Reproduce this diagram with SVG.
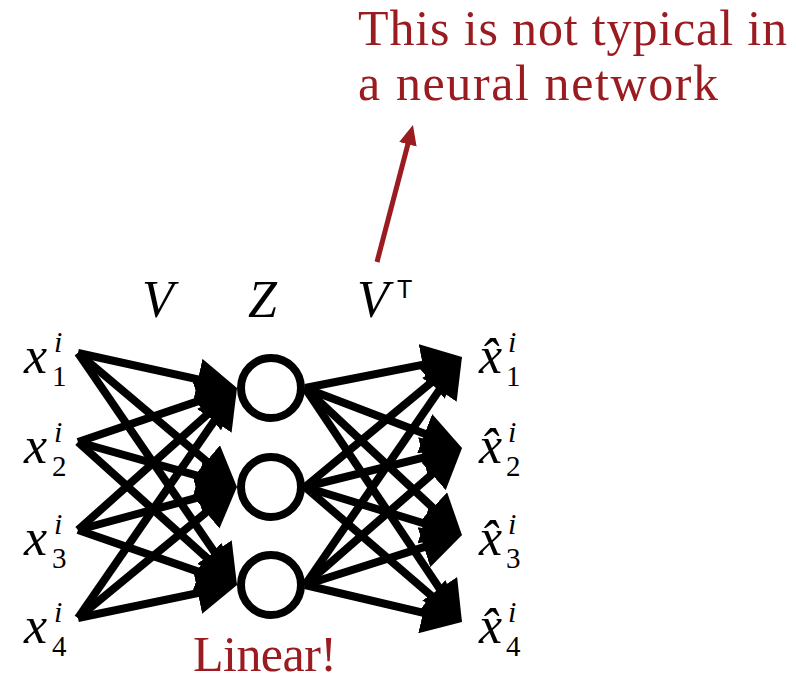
<svg xmlns="http://www.w3.org/2000/svg" width="796" height="681" viewBox="0 0 796 681">
<style>
.m{font-family:"Liberation Serif","DejaVu Serif",serif;font-style:italic;font-size:52px;fill:#000}
.sup{font-family:"Liberation Serif","DejaVu Serif",serif;font-style:italic;font-size:30px;fill:#000}
.sub{font-family:"Liberation Serif","DejaVu Serif",serif;font-size:29px;fill:#000}
.red{font-family:"Liberation Serif","DejaVu Serif",serif;font-size:50px;fill:#9a1c20}
.e{stroke:#000;stroke-width:8;fill:none;marker-end:url(#ah)}
.n{fill:#fff;stroke:#000;stroke-width:8}
</style>
<defs>
<marker id="ah" markerUnits="userSpaceOnUse" viewBox="0 0 40 42" markerWidth="40" markerHeight="42" refX="28" refY="21" orient="auto">
<path d="M0,0 L40,21 L0,42 z" fill="#000"/>
</marker>
<marker id="rah" markerUnits="userSpaceOnUse" viewBox="0 0 20 18" markerWidth="20" markerHeight="18" refX="6" refY="9" orient="auto">
<path d="M0,0 L20,9 L0,18 z" fill="#9a1c20"/>
</marker>
</defs>
<g id="connectors">
<line class="e" x1="78" y1="353" x2="225.3" y2="385.4"/>
<line class="e" x1="78" y1="442" x2="225.6" y2="391.9"/>
<line class="e" x1="78" y1="530" x2="228.0" y2="396.0"/>
<line class="e" x1="78" y1="618" x2="230.2" y2="397.9"/>
<line class="e" x1="78" y1="353" x2="227.8" y2="479.3"/>
<line class="e" x1="78" y1="442" x2="225.5" y2="483.7"/>
<line class="e" x1="78" y1="530" x2="225.4" y2="490.1"/>
<line class="e" x1="78" y1="618" x2="227.7" y2="494.6"/>
<line class="e" x1="78" y1="353" x2="230.2" y2="575.1"/>
<line class="e" x1="78" y1="442" x2="228.1" y2="577.0"/>
<line class="e" x1="78" y1="530" x2="225.7" y2="581.1"/>
<line class="e" x1="78" y1="618" x2="225.3" y2="587.4"/>
<line class="e" x1="305" y1="388" x2="450.2" y2="359.3"/>
<line class="e" x1="305" y1="388" x2="450.8" y2="443.7"/>
<line class="e" x1="305" y1="388" x2="453.2" y2="526.8"/>
<line class="e" x1="305" y1="388" x2="455.3" y2="612.0"/>
<line class="e" x1="305" y1="487" x2="452.8" y2="364.7"/>
<line class="e" x1="305" y1="487" x2="450.4" y2="450.9"/>
<line class="e" x1="305" y1="487" x2="450.5" y2="531.5"/>
<line class="e" x1="305" y1="487" x2="452.9" y2="614.2"/>
<line class="e" x1="305" y1="585" x2="455.2" y2="366.9"/>
<line class="e" x1="305" y1="585" x2="453.0" y2="455.9"/>
<line class="e" x1="305" y1="585" x2="450.6" y2="538.6"/>
<line class="e" x1="305" y1="585" x2="450.3" y2="619.2"/>
<line x1="377" y1="262" x2="409.4" y2="138.5" stroke="#9a1c20" stroke-width="5" marker-end="url(#rah)"/>
</g>
<g id="z1"><circle class="n" cx="271" cy="388" r="30"/></g>
<g id="z2"><circle class="n" cx="271" cy="487" r="30"/></g>
<g id="z3"><circle class="n" cx="271" cy="585" r="30"/></g>
<g id="x1"><text class="m" x="24" y="373">x</text><text class="sup" x="54" y="352">i</text><text class="sub" x="52" y="386">1</text></g>
<g id="x2"><text class="m" x="24" y="463">x</text><text class="sup" x="54" y="442">i</text><text class="sub" x="52" y="476">2</text></g>
<g id="x3"><text class="m" x="24" y="555">x</text><text class="sup" x="54" y="534">i</text><text class="sub" x="52" y="568">3</text></g>
<g id="x4"><text class="m" x="24" y="643">x</text><text class="sup" x="54" y="622">i</text><text class="sub" x="52" y="656">4</text></g>
<g id="y1"><text class="m" x="479" y="373">x̂</text><text class="sup" x="508" y="352">i</text><text class="sub" x="506" y="386">1</text></g>
<g id="y2"><text class="m" x="479" y="463">x̂</text><text class="sup" x="508" y="442">i</text><text class="sub" x="506" y="476">2</text></g>
<g id="y3"><text class="m" x="479" y="555">x̂</text><text class="sup" x="508" y="534">i</text><text class="sub" x="506" y="568">3</text></g>
<g id="y4"><text class="m" x="479" y="643">x̂</text><text class="sup" x="508" y="622">i</text><text class="sub" x="506" y="656">4</text></g>
<g id="labels">
<text class="m" x="142" y="317">V</text>
<text class="m" x="248" y="317">Z</text>
<text class="m" x="357" y="317">V</text>
<text x="397" y="298" font-family="Liberation Sans, Arial, sans-serif" font-size="25">T</text>
</g>
<g id="notes">
<text class="red" x="358" y="45" textLength="429">This is not typical in</text>
<text class="red" x="358" y="100" textLength="360">a neural network</text>
<text class="red" x="193" y="671" font-size="46" textLength="144">Linear!</text>
</g>
</svg>
